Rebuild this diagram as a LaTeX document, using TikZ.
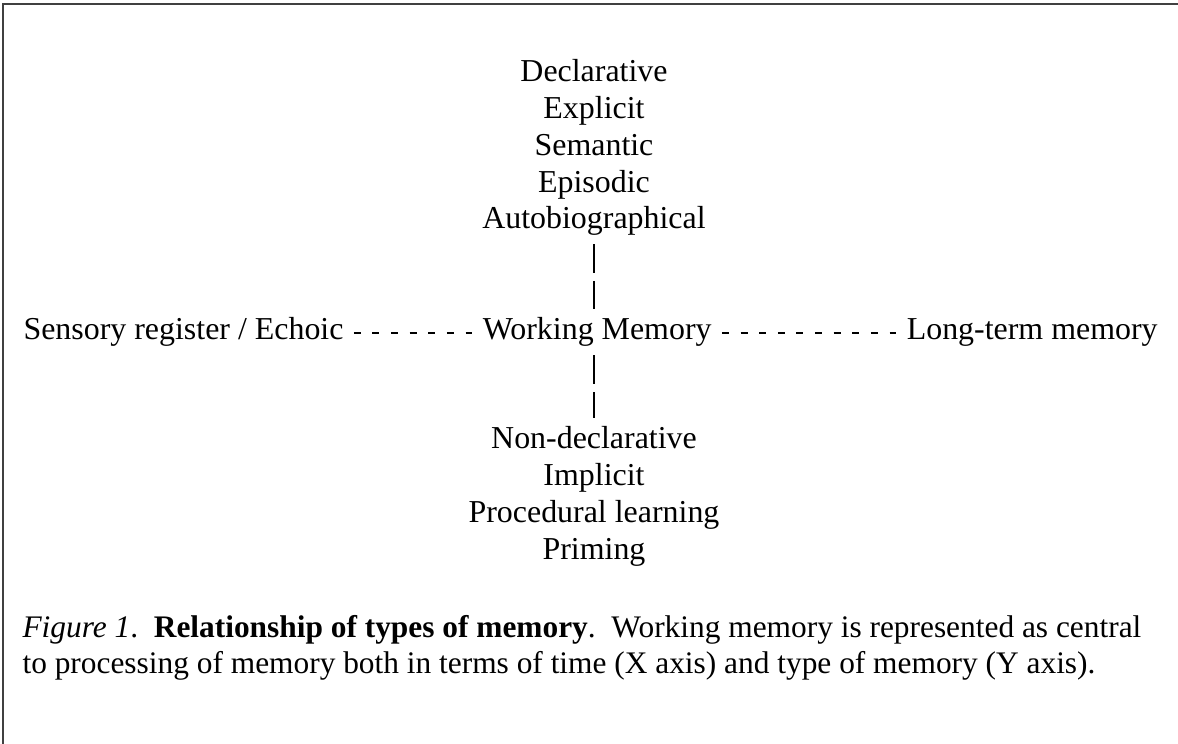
\documentclass[tikz,border=0pt]{standalone}
\usepackage{fontspec}
\setmainfont{Liberation Serif}
\usetikzlibrary{positioning}
\begin{document}
\begin{tikzpicture}[
        x = .376pt,
        y = -.376pt,
        lbl/.style = {inner sep=0, font=\fontsize{12}{13.8}\selectfont},
        caption/.style = {inner sep=0, font=\fontsize{11.8}{13.8}\selectfont},
        hlink/.style = {line width=.75pt, dash pattern=on 2.6pt off 4.4pt,
            shorten <=3.7pt, shorten >=3.7pt},
        vlink/.style = {line width=.55pt, dash pattern=on 10.9pt off 2.9pt,
            shorten <=3pt, shorten >=3pt}
    ]
        \useasboundingbox (0,0) rectangle (1178,744);
        \draw[line width=.8pt, black!75] (1178,4) -- (3,4) -- (3,744);

        \foreach \txt [count=\i from 0] in {Declarative, Explicit, Semantic, Episodic, Autobiographical}
            \node[lbl, anchor=base] (up\i) at (594, {82+\i*36.7}) {\txt};
        \foreach \txt [count=\i from 0] in {Non-declarative, Implicit, Procedural learning, Priming}
            \node[lbl, anchor=base] (dn\i) at (594, {449+\i*36.7}) {\txt};

        \node[lbl, anchor=base west] (sens) at (23, 340) {Sensory register / Echoic};
        \node[lbl, base right=52pt of sens] (wm) {Working Memory};
        \node[lbl, base right=73pt of wm] (ltm) {Long-term memory};

        \draw[hlink] ([yshift=2.8pt]sens.base east) -- ([yshift=2.8pt]wm.base west);
        \draw[hlink] ([yshift=2.8pt]wm.base east) -- ([yshift=2.8pt]ltm.base west);
        \draw[vlink] (up4.south) -- (up4.south |- wm.north);
        \draw[vlink] (up4.south |- wm.south) -- (dn0.north);

        \node[caption, anchor=base west] (cap1) at (22, 637)
            {\textit{Figure 1}.\ \ \textbf{Relationship of types of memory}.\ \ Working memory is represented as central};
        \node[caption, anchor=base west] (cap2) at ([yshift=-13.8pt]cap1.base west)
            {to processing of memory both in terms of time (X axis) and type of memory (Y axis).};
    \end{tikzpicture}
\end{document}
